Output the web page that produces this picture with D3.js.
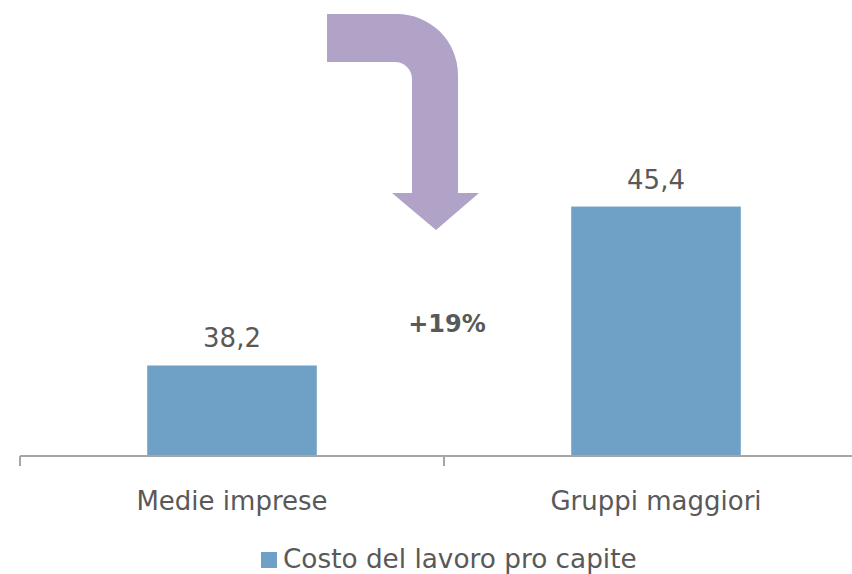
<!DOCTYPE html>
<html>
<head>
<meta charset="utf-8">
<script src="https://cdn.jsdelivr.net/npm/d3@7"></script>
<style>
  body { margin: 0; background: #fff; }
  svg { display: block; font-family: "DejaVu Sans", sans-serif; }
</style>
</head>
<body>
<div id="chart"></div>
<script>
const categories = ["Medie imprese", "Gruppi maggiori"];
const values = [38.2, 45.4];
const seriesName = "Costo del lavoro pro capite";
const deltaLabel = "+19%";

let width = 852,
  height = 574;

const barColor = "#6fa0c5",
  textColor = "#595959",
  axisColor = "#a6a6a6";

let x = d3.scaleBand()
  .domain(categories)
  .range([20, 868])
  .paddingInner(0.6)
  .paddingOuter(0.3);

let y = d3.scaleLinear()
  .domain([34.1, 50])
  .range([456, 105]);

const svg = d3.select("#chart")
  .append("svg")
  .attr("width", width)
  .attr("height", height)
  .attr("viewBox", [0, 0, width, height]);

// bars
svg.selectAll("rect.bar")
  .data(values)
  .join("rect")
  .attr("class", "bar")
  .attr("x", (d, i) => x(categories[i]))
  .attr("width", x.bandwidth())
  .attr("y", d => y(d))
  .attr("height", d => y(y.domain()[0]) - y(d))
  .attr("fill", barColor);

// data labels
svg.selectAll("text.val")
  .data(values)
  .join("text")
  .attr("class", "val")
  .attr("x", (d, i) => x(categories[i]) + x.bandwidth() / 2)
  .attr("y", d => y(d) - 18)
  .attr("text-anchor", "middle")
  .attr("fill", textColor)
  .attr("font-size", 26)
  .text(d => d3.format(".1f")(d).replace(".", ","));

// x axis
const axis = svg.append("g")
  .attr("transform", `translate(0,${y.range()[0]})`)
  .call(d3.axisBottom(x).tickSize(0).tickPadding(35.5));

axis.select(".domain")
  .attr("d", `M${x.range()[0]},0H${x.range()[1]}`)
  .attr("stroke", axisColor)
  .attr("stroke-width", 2);

axis.selectAll(".tick text")
  .attr("font-family", "DejaVu Sans, sans-serif")
  .attr("font-size", 26)
  .attr("fill", textColor);

// tick marks at band boundaries
const step = x.step();
const bounds = categories.map(c => x(c) - step * x.paddingInner() / 2);
axis.selectAll("line.sep")
  .data(bounds)
  .join("line")
  .attr("class", "sep")
  .attr("x1", d => d)
  .attr("x2", d => d)
  .attr("y1", 0)
  .attr("y2", 10)
  .attr("stroke", axisColor)
  .attr("stroke-width", 2);

// curved arrow between the bars
const arrow = d3.path();
arrow.moveTo(327, 14);
arrow.lineTo(397, 14);
arrow.arcTo(458, 14, 458, 75, 61);
arrow.lineTo(458, 193);
arrow.lineTo(479, 193);
arrow.lineTo(436, 230);
arrow.lineTo(392, 193);
arrow.lineTo(412, 193);
arrow.lineTo(412, 79);
arrow.arcTo(412, 62, 395, 62, 17);
arrow.lineTo(327, 62);
arrow.closePath();

svg.append("path")
  .attr("d", arrow.toString())
  .attr("fill", "#b1a2c8");

svg.append("text")
  .attr("x", 447)
  .attr("y", 332)
  .attr("text-anchor", "middle")
  .attr("fill", textColor)
  .attr("font-size", 24)
  .attr("font-weight", "bold")
  .text(deltaLabel);

// legend
const legend = svg.append("g")
  .attr("transform", "translate(261,552)");

legend.append("rect")
  .attr("width", 16)
  .attr("height", 16)
  .attr("fill", barColor);

legend.append("text")
  .attr("x", 22)
  .attr("y", 15.5)
  .attr("fill", textColor)
  .attr("font-size", 26.3)
  .text(seriesName);
</script>
</body>
</html>
